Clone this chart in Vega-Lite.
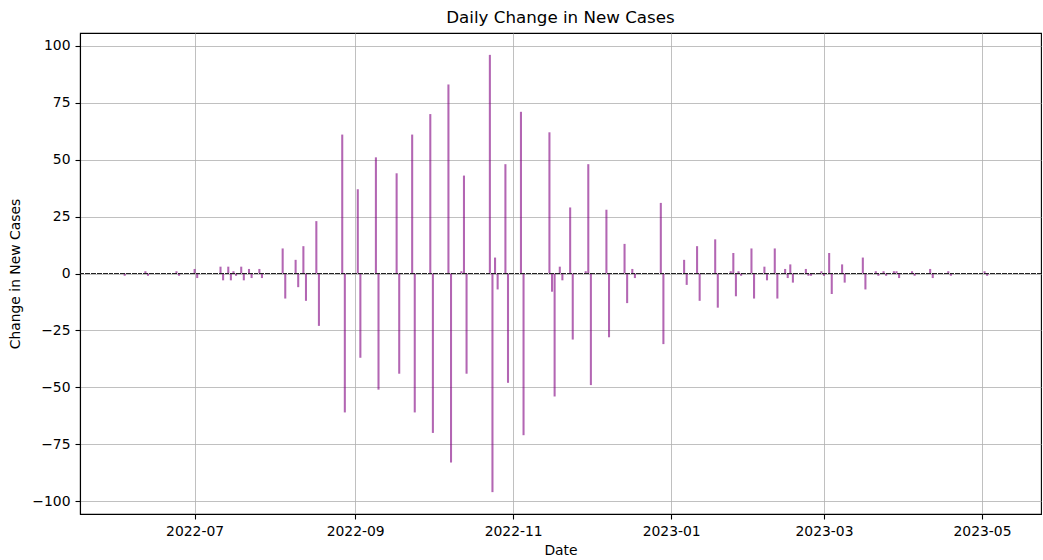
{
  "$schema": "https://vega.github.io/schema/vega-lite/v6.json",
  "autosize": {"type": "none"},
  "width": 961,
  "height": 481,
  "padding": {"left": 80, "top": 33, "right": 2, "bottom": 46},
  "background": "white",
  "title": {"text": "Daily Change in New Cases", "font": "DejaVu Sans", "fontSize": 16.7, "fontWeight": "normal", "color": "black", "anchor": "middle", "offset": 7, "baseline": "bottom", "dy": 18},
  "config": {
    "view": {"stroke": "black", "strokeWidth": 1.1},
    "axis": {
      "grid": true,
      "gridColor": "#b0b0b0",
      "gridWidth": 0.8,
      "domainColor": "black",
      "domainWidth": 1.1,
      "tickColor": "black",
      "tickSize": 5,
      "tickWidth": 1.1,
      "labelColor": "black",
      "labelFont": "DejaVu Sans",
      "labelFontSize": 13.9,
      "labelPadding": 5,
      "titleColor": "black",
      "titleFont": "DejaVu Sans",
      "titleFontSize": 13.9,
      "titleFontWeight": "normal"
    }
  },
  "data": {
    "values": [
      {"date": "2022-06-04", "change": -1},
      {"date": "2022-06-12", "change": 1},
      {"date": "2022-06-13", "change": -1},
      {"date": "2022-06-24", "change": 1},
      {"date": "2022-06-25", "change": -1},
      {"date": "2022-07-01", "change": 2},
      {"date": "2022-07-02", "change": -2},
      {"date": "2022-07-11", "change": 3},
      {"date": "2022-07-12", "change": -3},
      {"date": "2022-07-14", "change": 3},
      {"date": "2022-07-15", "change": -3},
      {"date": "2022-07-16", "change": 1},
      {"date": "2022-07-17", "change": -1},
      {"date": "2022-07-19", "change": 3},
      {"date": "2022-07-20", "change": -3},
      {"date": "2022-07-22", "change": 2},
      {"date": "2022-07-23", "change": -2},
      {"date": "2022-07-26", "change": 2},
      {"date": "2022-07-27", "change": -2},
      {"date": "2022-08-04", "change": 11},
      {"date": "2022-08-05", "change": -11},
      {"date": "2022-08-09", "change": 6},
      {"date": "2022-08-10", "change": -6},
      {"date": "2022-08-12", "change": 12},
      {"date": "2022-08-13", "change": -12},
      {"date": "2022-08-17", "change": 23},
      {"date": "2022-08-18", "change": -23},
      {"date": "2022-08-27", "change": 61},
      {"date": "2022-08-28", "change": -61},
      {"date": "2022-09-02", "change": 37},
      {"date": "2022-09-03", "change": -37},
      {"date": "2022-09-09", "change": 51},
      {"date": "2022-09-10", "change": -51},
      {"date": "2022-09-17", "change": 44},
      {"date": "2022-09-18", "change": -44},
      {"date": "2022-09-23", "change": 61},
      {"date": "2022-09-24", "change": -61},
      {"date": "2022-09-30", "change": 70},
      {"date": "2022-10-01", "change": -70},
      {"date": "2022-10-07", "change": 83},
      {"date": "2022-10-08", "change": -83},
      {"date": "2022-10-12", "change": 1},
      {"date": "2022-10-13", "change": 43},
      {"date": "2022-10-14", "change": -44},
      {"date": "2022-10-23", "change": 96},
      {"date": "2022-10-24", "change": -96},
      {"date": "2022-10-25", "change": 7},
      {"date": "2022-10-26", "change": -7},
      {"date": "2022-10-29", "change": 48},
      {"date": "2022-10-30", "change": -48},
      {"date": "2022-11-04", "change": 71},
      {"date": "2022-11-05", "change": -71},
      {"date": "2022-11-15", "change": 62},
      {"date": "2022-11-16", "change": -8},
      {"date": "2022-11-17", "change": -54},
      {"date": "2022-11-19", "change": 3},
      {"date": "2022-11-20", "change": -3},
      {"date": "2022-11-23", "change": 29},
      {"date": "2022-11-24", "change": -29},
      {"date": "2022-11-29", "change": 1},
      {"date": "2022-11-30", "change": 48},
      {"date": "2022-12-01", "change": -49},
      {"date": "2022-12-07", "change": 28},
      {"date": "2022-12-08", "change": -28},
      {"date": "2022-12-14", "change": 13},
      {"date": "2022-12-15", "change": -13},
      {"date": "2022-12-17", "change": 2},
      {"date": "2022-12-18", "change": -2},
      {"date": "2022-12-28", "change": 31},
      {"date": "2022-12-29", "change": -31},
      {"date": "2023-01-06", "change": 6},
      {"date": "2023-01-07", "change": -5},
      {"date": "2023-01-11", "change": 12},
      {"date": "2023-01-12", "change": -12},
      {"date": "2023-01-18", "change": 15},
      {"date": "2023-01-19", "change": -15},
      {"date": "2023-01-24", "change": 1},
      {"date": "2023-01-25", "change": 9},
      {"date": "2023-01-26", "change": -10},
      {"date": "2023-01-27", "change": 1},
      {"date": "2023-01-28", "change": -1},
      {"date": "2023-02-01", "change": 11},
      {"date": "2023-02-02", "change": -11},
      {"date": "2023-02-06", "change": 3},
      {"date": "2023-02-07", "change": -3},
      {"date": "2023-02-10", "change": 11},
      {"date": "2023-02-11", "change": -11},
      {"date": "2023-02-14", "change": 2},
      {"date": "2023-02-15", "change": -2},
      {"date": "2023-02-16", "change": 4},
      {"date": "2023-02-17", "change": -4},
      {"date": "2023-02-22", "change": 2},
      {"date": "2023-02-23", "change": -1},
      {"date": "2023-02-24", "change": -1},
      {"date": "2023-02-28", "change": 1},
      {"date": "2023-03-01", "change": -1},
      {"date": "2023-03-03", "change": 9},
      {"date": "2023-03-04", "change": -9},
      {"date": "2023-03-08", "change": 4},
      {"date": "2023-03-09", "change": -4},
      {"date": "2023-03-16", "change": 7},
      {"date": "2023-03-17", "change": -7},
      {"date": "2023-03-21", "change": 1},
      {"date": "2023-03-22", "change": -1},
      {"date": "2023-03-24", "change": 1},
      {"date": "2023-03-25", "change": -1},
      {"date": "2023-03-28", "change": 1},
      {"date": "2023-03-29", "change": 1},
      {"date": "2023-03-30", "change": -2},
      {"date": "2023-04-04", "change": 1},
      {"date": "2023-04-05", "change": -1},
      {"date": "2023-04-11", "change": 2},
      {"date": "2023-04-12", "change": -2},
      {"date": "2023-04-18", "change": 1},
      {"date": "2023-04-19", "change": -1},
      {"date": "2023-05-02", "change": 1},
      {"date": "2023-05-03", "change": -1}
    ]
  },
  "encoding": {
    "x": {
      "field": "date",
      "type": "temporal",
      "title": "Date",
      "scale": {
        "type": "utc",
        "domain": [
          {"year": 2022, "month": 5, "date": 17, "hours": 18, "utc": true},
          {"year": 2023, "month": 5, "date": 23, "hours": 19, "utc": true}
        ]
      },
      "axis": {
        "values": [
          {"year": 2022, "month": 7, "date": 1, "utc": true},
          {"year": 2022, "month": 9, "date": 1, "utc": true},
          {"year": 2022, "month": 11, "date": 1, "utc": true},
          {"year": 2023, "month": 1, "date": 1, "utc": true},
          {"year": 2023, "month": 3, "date": 1, "utc": true},
          {"year": 2023, "month": 5, "date": 1, "utc": true}
        ],
        "format": "%Y-%m",
        "labelFlush": false,
        "titlePadding": 6
      }
    },
    "y": {
      "field": "change",
      "type": "quantitative",
      "title": "Change in New Cases",
      "scale": {"domain": [-105.6, 105.6], "nice": false, "zero": false},
      "axis": {"values": [-100, -75, -50, -25, 0, 25, 50, 75, 100], "format": "d", "titlePadding": 9}
    }
  },
  "layer": [
    {
      "mark": {"type": "rule", "color": "purple", "opacity": 0.6, "strokeWidth": 2.07, "strokeCap": "butt"},
      "encoding": {"y2": {"datum": 0}}
    },
    {
      "mark": {"type": "rule", "color": "#222222", "strokeWidth": 1.1, "strokeDash": [4, 1.8]},
      "encoding": {"y": {"datum": 0}, "x": null}
    }
  ]
}
